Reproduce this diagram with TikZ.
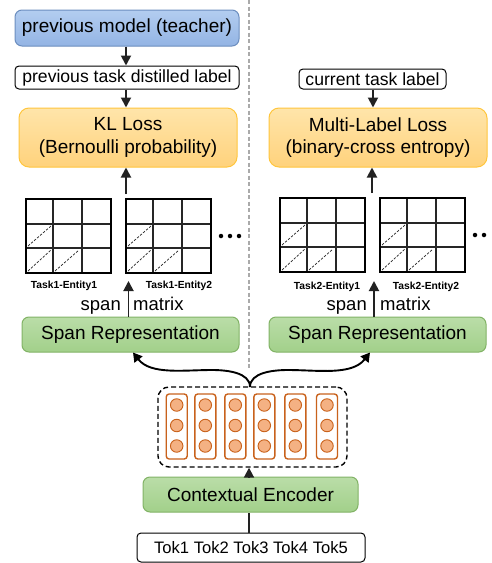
\documentclass[tikz,border=0pt]{standalone}
\usepackage{fontspec}
\setmainfont{Liberation Sans}
\usetikzlibrary{arrows.meta}
\definecolor{blueT}{HTML}{B3CDF0}
\definecolor{blueB}{HTML}{93B4E4}
\definecolor{blueS}{HTML}{6C8EBF}
\definecolor{orT}{HTML}{FFE5AA}
\definecolor{orB}{HTML}{FFD27C}
\definecolor{orS}{HTML}{FFC63D}
\definecolor{grT}{HTML}{BADDA8}
\definecolor{grB}{HTML}{A2D08A}
\definecolor{grS}{HTML}{82B366}
\definecolor{cellS}{HTML}{C9621C}
\definecolor{cellF}{HTML}{F4B183}
\definecolor{divC}{HTML}{AAAAAA}
\definecolor{arrC}{HTML}{222222}
\tikzset{
  fs/.style={font=\fontsize{#1}{22}\selectfont},
  bluebox/.style={draw=blueS, line width=1pt, rounded corners=7pt, top color=blueT, bottom color=blueB},
  orbox/.style={draw=orS, line width=1pt, rounded corners=10pt, top color=orT, bottom color=orB, align=center, font=\fontsize{19}{22.5}\selectfont},
  grbox/.style={draw=grS, line width=1pt, rounded corners=7pt, top color=grT, bottom color=grB, fs=19},
  lblbox/.style={draw=black, fill=white, line width=1pt, rounded corners=4pt},
  arr/.style={draw=arrC, line width=1.9pt, -{Triangle[length=10pt,width=10pt]}},
  curvearr/.style={draw=black, line width=1.9pt, -{Triangle[length=9pt,width=10pt]}},
  gridout/.style={draw=black, line width=1.5pt},
  gridin/.style={draw=black!85, line width=1.1pt},
  diagline/.style={draw=black!85, line width=0.7pt, dash pattern=on 2.5pt off 1.5pt},
  tasklbl/.style={font=\fontsize{10.3}{12}\selectfont\bfseries, inner sep=0pt},
  spanlbl/.style={fs=18.5, inner sep=0pt},
  col/.style={draw=cellS, line width=1.4pt, rounded corners=3pt, minimum width=21pt, minimum height=65pt, fill=white},
  dot/.style={circle, draw=cellS, fill=cellF, line width=0.9pt, minimum size=12.5pt, inner sep=0pt},
  dotdot/.style={circle, fill=black, minimum size=4.5pt, inner sep=0pt}
}
\newcommand\spanmat[3]{%
  \begin{scope}[shift={(#1,#2)}]
    \node[minimum width=85pt, minimum height=74pt, inner sep=0pt, anchor=north west] (#3) at (0,0) {};
    \draw[gridin] (27,0) -- (27,74) (56,0) -- (56,74) (0,25) -- (85,25) (0,49) -- (85,49);
    \draw[diagline] (2,47) -- (25,27) (2,72) -- (25,51) (29,72) -- (53,51);
    \draw[gridout] (0,0) rectangle (85,74);
  \end{scope}}
\begin{document}
\begin{tikzpicture}[x=1pt, y=-1pt]
\useasboundingbox (0,0) rectangle (491,563);
\fill[white] (0,0) rectangle (491,563);
\coordinate (xL) at (126,0);
\coordinate (xR) at (373,0);
\coordinate (xC) at (249,0);
% divider
\draw[divC, line width=2pt, dash pattern=on 4pt off 2.5pt] (249,0) -- (249,370);
% left column
\node[bluebox, minimum width=224pt, minimum height=36pt, fs=19] (teacher) at (127,28) {previous model (teacher)};
\node[lblbox, minimum width=224pt, minimum height=23pt, inner sep=0pt, fs=17.6] (distil) at (127,77.5) {previous task distilled label};
\node[orbox, minimum width=218pt, minimum height=59pt] (kl) at (128,137.5) {KL Loss\\(Bernoulli probability)};
\draw[arr] (teacher.south -| xL) -- (distil.north -| xL);
\draw[arr] (distil.south -| xL) -- (kl.north -| xL);
% right column
\node[lblbox, minimum width=147pt, minimum height=20pt, inner sep=0pt, fs=17.6] (cur) at (372.5,79) {current task label};
\node[orbox, minimum width=218pt, minimum height=59pt] (ml) at (378,137.5) {Multi-Label Loss\\(binary-cross entropy)};
\draw[arr] (cur.south -| xR) -- (ml.north -| xR);
% matrices
\spanmat{26}{199}{m11}
\spanmat{126}{199}{m12}
\spanmat{280}{198}{m21}
\spanmat{380}{198}{m22}
\coordinate (upL) at (126,194);
\coordinate (upR) at (372,193);
\draw[arr] (upL) -- (kl.south -| upL);
\draw[arr] (upR) -- (ml.south -| upR);
\node[dotdot] (d1) at (221,236) {};
\node[dotdot] (d2) at (230,236) {};
\node[dotdot] (d3) at (239,236) {};
\node[dotdot] (d4) at (475,235) {};
\node[dotdot] (d5) at (484,235) {};
\node[tasklbl] (t11) at (64,286) {Task1-Entity1};
\node[tasklbl] (t12) at (179,286) {Task1-Entity2};
\node[tasklbl] (t21) at (327,287) {Task2-Entity1};
\node[tasklbl] (t22) at (426,287) {Task2-Entity2};
% span representation
\node[grbox, minimum width=217pt, minimum height=35pt] (spanL) at (130.5,334.5) {Span Representation};
\node[grbox, minimum width=217pt, minimum height=35pt] (spanR) at (377.5,334.5) {Span Representation};
\coordinate (smL) at (128.5,281);
\coordinate (smR) at (374,281);
\draw[arr] (spanL.north -| smL) -- (smL);
\draw[arr] (spanR.north -| smR) -- (smR);
\node[spanlbl, anchor=base east] (spanLa) at (121,310) {span};
\node[spanlbl, anchor=base west] (spanLb) at (133,310) {matrix};
\node[spanlbl, anchor=base east] (spanRa) at (367,310) {span};
\node[spanlbl, anchor=base west] (spanRb) at (380,310) {matrix};
% encoder output
\node[draw=black, line width=1.4pt, dash pattern=on 5pt off 3pt, rounded corners=11pt, minimum width=189pt, minimum height=80pt] (enc) at (252.5,427) {};
\foreach \cx [count=\i] in {176.7,205.3,235.3,264.3,295.3,327}{
  \node[col] (c\i) at (\cx,426.5) {};
  \node[dot] (c\i a) at (\cx,405) {};
  \node[dot] (c\i b) at (\cx,425.5) {};
  \node[dot] (c\i c) at (\cx,446) {};
}
\coordinate (top) at (250,387);
\draw[curvearr] (top) to[out=90,in=0,looseness=0.9] (212,370) to[out=180,in=-52,looseness=0.9] (133,352.5);
\draw[curvearr] (top) to[out=90,in=180,looseness=0.9] (288,370) to[out=0,in=-128,looseness=0.9] (370,352.5);
% encoder
\node[grbox, minimum width=215pt, minimum height=35pt] (ce) at (250.5,494.5) {Contextual Encoder};
\node[lblbox, minimum width=228pt, minimum height=29pt, inner sep=0pt, fs=16.6] (tok) at (251,547.5) {Tok1 Tok2 Tok3 Tok4 Tok5};
\draw[arr] (ce.north -| xC) -- (enc.south -| xC);
\draw[draw=arrC, line width=1.9pt] (tok.north -| xC) -- (ce.south -| xC);
\end{tikzpicture}
\end{document}
